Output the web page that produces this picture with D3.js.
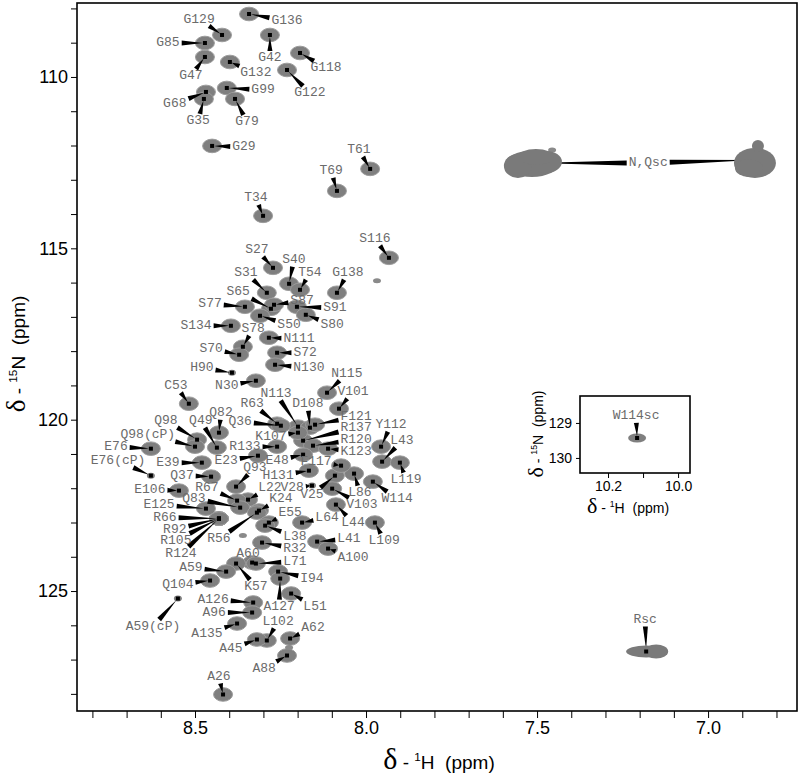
<!DOCTYPE html>
<html>
<head>
<meta charset="utf-8">
<script src="https://cdn.jsdelivr.net/npm/d3@7"></script>
<style>
  body { margin: 0; background: #fff; }
  svg { display: block; }
  text { white-space: pre; }
</style>
</head>
<body>
<svg id="chart" width="800" height="775"></svg>
<script>
// assigned backbone amides: [label, 1H ppm, 15N ppm, label 1H, label 15N]
const backbonePeaks = [
  ["G136", 8.342, 108.163, 8.231, 108.367],
  ["G129", 8.421, 108.775, 8.488, 108.309],
  ["G85", 8.471, 109.009, 8.579, 109.009],
  ["G42", 8.281, 108.775, 8.281, 109.446],
  ["G47", 8.471, 109.417, 8.512, 109.971],
  ["G132", 8.398, 109.563, 8.322, 109.883],
  ["G118", 8.193, 109.300, 8.117, 109.738],
  ["G122", 8.231, 109.796, 8.164, 110.466],
  ["G99", 8.407, 110.321, 8.301, 110.379],
  ["G68", 8.468, 110.437, 8.559, 110.787],
  ["G35", 8.474, 110.641, 8.491, 111.283],
  ["G79", 8.383, 110.641, 8.348, 111.312],
  ["G29", 8.450, 112.012, 8.357, 112.041],
  ["T61", 7.988, 112.682, 8.021, 112.128],
  ["T69", 8.085, 113.324, 8.102, 112.741],
  ["T34", 8.301, 114.052, 8.322, 113.528],
  ["S116", 7.933, 115.277, 7.974, 114.723],
  ["S27", 8.272, 115.569, 8.319, 115.044],
  ["S40", 8.225, 116.035, 8.211, 115.335],
  ["T54", 8.193, 116.210, 8.164, 115.714],
  ["G138", 8.085, 116.297, 8.053, 115.714],
  ["S31", 8.290, 116.297, 8.351, 115.714],
  ["S65", 8.278, 116.764, 8.374, 116.268],
  ["S87", 8.269, 116.647, 8.187, 116.531],
  ["S77", 8.354, 116.706, 8.456, 116.618],
  ["S91", 8.202, 116.706, 8.091, 116.735],
  ["S50", 8.310, 116.968, 8.225, 117.230],
  ["S80", 8.176, 116.939, 8.099, 117.230],
  ["S134", 8.395, 117.260, 8.497, 117.260],
  ["S78", 8.360, 117.872, 8.330, 117.347],
  ["S70", 8.371, 118.105, 8.453, 117.930],
  ["N111", 8.284, 117.609, 8.196, 117.639],
  ["S72", 8.260, 118.047, 8.178, 118.047],
  ["N130", 8.266, 118.397, 8.167, 118.484],
  ["N30", 8.322, 118.863, 8.407, 119.009],
  ["N115", 8.114, 119.213, 8.056, 118.659],
  ["V101", 8.079, 119.679, 8.038, 119.184],
  ["C53", 8.518, 119.534, 8.556, 119.009],
  ["R63", 8.260, 120.117, 8.333, 119.534],
  ["N113", 8.199, 120.204, 8.263, 119.242],
  ["D108", 8.164, 120.233, 8.170, 119.534],
  ["F121", 8.149, 120.146, 8.029, 119.913],
  ["R137", 8.184, 120.612, 8.029, 120.233],
  ["R120", 8.155, 120.758, 8.029, 120.583],
  ["K123", 8.111, 120.846, 8.029, 120.933],
  ["K107", 8.199, 120.379, 8.278, 120.496],
  ["Q98", 8.494, 120.583, 8.585, 120.029],
  ["Q98(cP)", 8.500, 120.787, 8.638, 120.437],
  ["Q49", 8.436, 120.816, 8.483, 120.029],
  ["Q82", 8.430, 120.379, 8.424, 119.796],
  ["Q36", 8.249, 120.175, 8.368, 120.058],
  ["E76", 8.629, 120.846, 8.731, 120.787],
  ["R133", 8.260, 120.787, 8.354, 120.787],
  ["E39", 8.480, 121.254, 8.579, 121.254],
  ["E23", 8.316, 121.050, 8.409, 121.195],
  ["Q37", 8.453, 121.662, 8.538, 121.633],
  ["Q93", 8.380, 121.953, 8.325, 121.400],
  ["E106", 8.547, 122.070, 8.632, 122.041],
  ["Y112", 7.956, 120.787, 7.927, 120.146],
  ["L43", 7.953, 121.225, 7.895, 120.612],
  ["L119", 7.901, 121.254, 7.883, 121.749],
  ["W114", 7.980, 121.808, 7.909, 122.303],
  ["L109", 7.974, 123.003, 7.947, 123.528],
  ["L86", 8.035, 121.574, 8.018, 122.128],
  ["V25", 8.091, 121.633, 8.158, 122.187],
  ["V103", 8.099, 122.012, 8.012, 122.478],
  ["L44", 8.088, 122.478, 8.038, 123.003],
  ["F117", 8.073, 121.341, 8.146, 121.225],
  ["E48", 8.184, 121.021, 8.260, 121.195],
  ["H131", 8.167, 121.487, 8.257, 121.633],
  ["L22", 8.345, 122.333, 8.281, 121.983],
  ["R67", 8.377, 122.362, 8.465, 121.983],
  ["Q83", 8.368, 122.566, 8.503, 122.303],
  ["E125", 8.468, 122.595, 8.605, 122.478],
  ["R66", 8.430, 122.886, 8.588, 122.857],
  ["R92", 8.430, 122.886, 8.559, 123.207],
  ["R105", 8.430, 122.886, 8.556, 123.528],
  ["R124", 8.430, 122.886, 8.541, 123.907],
  ["K24", 8.313, 122.653, 8.249, 122.303],
  ["R56", 8.319, 122.712, 8.430, 123.470],
  ["E55", 8.284, 123.003, 8.222, 122.712],
  ["L38", 8.295, 123.091, 8.208, 123.411],
  ["R32", 8.304, 123.586, 8.208, 123.761],
  ["L64", 8.187, 123.003, 8.114, 122.857],
  ["L41", 8.143, 123.557, 8.050, 123.470],
  ["A100", 8.111, 123.761, 8.038, 124.023],
  ["A60", 8.333, 124.169, 8.345, 123.907],
  ["K57", 8.380, 124.198, 8.322, 124.869],
  ["L71", 8.322, 124.198, 8.208, 124.140],
  ["A59", 8.409, 124.432, 8.512, 124.315],
  ["I94", 8.257, 124.432, 8.158, 124.636],
  ["A127", 8.251, 124.636, 8.254, 125.452],
  ["L51", 8.219, 125.073, 8.149, 125.452],
  ["Q104", 8.456, 124.694, 8.550, 124.811],
  ["A126", 8.330, 125.335, 8.447, 125.248],
  ["A96", 8.333, 125.627, 8.444, 125.627],
  ["A135", 8.377, 125.948, 8.465, 126.239],
  ["L102", 8.290, 126.443, 8.257, 125.889],
  ["A45", 8.319, 126.414, 8.395, 126.677],
  ["A62", 8.222, 126.385, 8.155, 126.064],
  ["A88", 8.231, 126.881, 8.298, 127.260],
  ["A26", 8.418, 128.018, 8.430, 127.493]
];

// weak peaks (cis-Pro forms and small signals)
const weakPeaks = [
  ["H90", 8.392, 118.630, 8.480, 118.484],
  ["E76(cP)", 8.629, 121.633, 8.725, 121.195],
  ["V28", 8.158, 121.924, 8.216, 121.983],
  ["A59(cP)", 8.550, 125.219, 8.623, 126.035]
];

// unassigned small signals: [1H, 15N]
const otherPeaks = [
  [7.968, 115.948],
  [8.360, 123.382],
  [8.225, 126.647],
  [7.456, 112.128]
];

// side-chain NH2 / NeH signals
const sideChainPeaks = [
  ["N,Qsc", 7.515, 112.507, 7.175, 112.507],
  ["N,Qsc", 6.863, 112.420, 7.175, 112.507],
  ["Rsc", 7.181, 126.764, 7.184, 125.831]
];

// inset (Trp indole)
const insetPeaks = [["W114sc", 10.117, 129.43, 10.12, 128.80]];

const xTicks = [8.8, 8.7, 8.6, 8.5, 8.4, 8.3, 8.2, 8.1, 8.0, 7.9, 7.8, 7.7, 7.6, 7.5, 7.4, 7.3, 7.2, 7.1, 7.0, 6.9, 6.8];
const xTickLabels = [8.5, 8.0, 7.5, 7.0];
const yTicks = [108, 109, 110, 111, 112, 113, 114, 115, 116, 117, 118, 119, 120, 121, 122, 123, 124, 125, 126, 127, 128];
const yTickLabels = [110, 115, 120, 125];
const insetXTicks = [10.2, 10.1, 10.0];
const insetXTickLabels = [10.2, 10.0];
const insetYTicks = [129, 130];

const svg = d3.select('#chart');
const sansFont = '"Liberation Sans", Arial, Helvetica, sans-serif';
const monoFont = '"Liberation Mono", "Courier New", monospace';
const serifFont = '"Liberation Serif", "Times New Roman", serif';

const x = d3.scaleLinear().domain([8.845, 6.74]).range([77, 797]);
const y = d3.scaleLinear().domain([107.842, 128.5]).range([3, 711]);

const has = (arr, v) => arr.some(a => Math.abs(a - v) < 1e-6);

// axes
svg.append('g')
  .attr('transform', 'translate(0,711)')
  .call(d3.axisBottom(x).tickValues(xTicks).tickSize(7).tickPadding(3)
    .tickFormat(d => has(xTickLabels, d) ? d.toFixed(1) : ''))
  .call(g => g.select('.domain').remove())
  .attr('font-family', sansFont).attr('font-size', 18);

svg.append('g')
  .attr('transform', 'translate(77,0)')
  .call(d3.axisLeft(y).tickValues(yTicks).tickSize(6).tickPadding(3)
    .tickFormat(d => has(yTickLabels, d) ? d : ''))
  .call(g => g.select('.domain').remove())
  .attr('font-family', sansFont).attr('font-size', 18);

svg.append('defs').append('clipPath').attr('id', 'plot')
  .append('rect').attr('x', 77).attr('y', 3).attr('width', 720).attr('height', 708);

const plot = svg.append('g').attr('clip-path', 'url(#plot)');

const charW = 7.8;
function wedgePath(text, lx, ly, px, py, w) {
  const hw = text.length * charW / 2 + 2, hh = 7;
  const dx = px - lx, dy = py - ly;
  const tx = dx !== 0 ? hw / Math.abs(dx) : Infinity;
  const ty = dy !== 0 ? hh / Math.abs(dy) : Infinity;
  const t = Math.min(tx, ty);
  if (t >= 1) return null;
  const sx = lx + dx * t, sy = ly + dy * t;
  const len = Math.hypot(px - sx, py - sy);
  if (len < 4) return null;
  const ux = (px - sx) / len, uy = (py - sy) / len;
  const ex = px - ux * 2, ey = py - uy * 2;
  const nx = -uy * w / 2, ny = ux * w / 2;
  return `M${sx + nx},${sy + ny}L${sx - nx},${sy - ny}L${ex},${ey}Z`;
}

// peak contours
plot.selectAll('ellipse.pk').data(backbonePeaks).join('ellipse')
  .attr('class', 'pk')
  .attr('cx', d => x(d[1])).attr('cy', d => y(d[2]))
  .attr('rx', 9.5).attr('ry', 6.8)
  .attr('fill', '#7f7f7f').attr('stroke', '#9c9c9c').attr('stroke-width', 1);

plot.selectAll('ellipse.wk').data(weakPeaks).join('ellipse')
  .attr('class', 'wk')
  .attr('cx', d => x(d[1])).attr('cy', d => y(d[2]))
  .attr('rx', 4).attr('ry', 3).attr('fill', '#7f7f7f');

plot.selectAll('ellipse.ot').data(otherPeaks).join('ellipse')
  .attr('class', 'ot')
  .attr('cx', d => x(d[0])).attr('cy', d => y(d[1]))
  .attr('rx', 4).attr('ry', 2.5).attr('fill', '#8a8a8a');

// leader wedges
const labelled = backbonePeaks.concat(weakPeaks, sideChainPeaks);
plot.selectAll('path.wedge').data(labelled).join('path')
  .attr('class', 'wedge')
  .attr('d', d => wedgePath(d[0], x(d[3]), y(d[4]), x(d[1]), y(d[2]), 5))
  .attr('fill', '#000');

// broad side-chain blobs drawn over their wedges
const blobParts = {
  left: [[0, 1, 27, 13], [-14, 3, 14, 12], [14, -1, 16, 11], [4, -6, 18, 8]],
  right: [[0, 3, 21, 15], [-6, 8, 14, 9], [3, -14, 6, 6]],
  rsc: [[0, 0, 20, 6], [10, 0, 12, 7]]
};
const blobKeys = ['left', 'right', 'rsc'];
sideChainPeaks.forEach((d, i) => {
  const cx = x(d[1]), cy = y(d[2]);
  plot.append('g').selectAll('ellipse').data(blobParts[blobKeys[i]]).join('ellipse')
    .attr('cx', p => cx + p[0]).attr('cy', p => cy + p[1])
    .attr('rx', p => p[2]).attr('ry', p => p[3])
    .attr('fill', '#7a7a7a');
});

// centre markers
const markers = backbonePeaks.concat(weakPeaks).map(d => [d[1], d[2]])
  .concat(sideChainPeaks.slice(2).map(d => [d[1], d[2]]));
plot.selectAll('rect.mk').data(markers).join('rect')
  .attr('class', 'mk')
  .attr('x', d => x(d[0]) - 2).attr('y', d => y(d[1]) - 2)
  .attr('width', 4).attr('height', 4).attr('fill', '#000');

// residue labels
const labelTexts = backbonePeaks.concat(weakPeaks, [sideChainPeaks[0], sideChainPeaks[2]]);
plot.selectAll('text.lab').data(labelTexts).join('text')
  .attr('class', 'lab')
  .attr('x', d => x(d[3])).attr('y', d => y(d[4]))
  .attr('text-anchor', 'middle').attr('dominant-baseline', 'central')
  .attr('font-family', monoFont).attr('font-size', 13).attr('fill', '#6b6b6b')
  .text(d => d[0]);

// frame
svg.append('rect').attr('x', 77).attr('y', 3).attr('width', 720).attr('height', 708)
  .attr('fill', 'none').attr('stroke', '#000').attr('stroke-width', 1.6);

// axis titles
function axisTitle(g, big, small, sup, nucleus, supDy) {
  g.append('tspan').attr('font-family', serifFont).attr('font-size', big).text('δ');
  g.append('tspan').attr('font-size', small).text(' - ');
  g.append('tspan').attr('font-size', small * 0.62).attr('dy', -supDy).text(sup);
  g.append('tspan').attr('font-size', small).attr('dy', supDy).text(nucleus + '  (ppm)');
}
axisTitle(svg.append('text').attr('x', 439).attr('y', 769).attr('text-anchor', 'middle')
  .attr('font-family', sansFont).attr('fill', '#000'), 30, 19, '1', 'H', 8);
axisTitle(svg.append('text').attr('transform', 'translate(25,354) rotate(-90)')
  .attr('text-anchor', 'middle').attr('font-family', sansFont).attr('fill', '#000'), 27, 19, '15', 'N', 8);

// inset
const ix = d3.scaleLinear().domain([10.28, 9.966]).range([580, 690]);
const iy = d3.scaleLinear().domain([128.23, 130.43]).range([396, 473]);
const inset = svg.append('g');
inset.append('rect').attr('x', 580).attr('y', 396).attr('width', 110).attr('height', 77)
  .attr('fill', '#fff');
inset.append('g').attr('transform', 'translate(0,473)')
  .call(d3.axisBottom(ix).tickValues(insetXTicks).tickSize(5).tickPadding(3)
    .tickFormat(d => has(insetXTickLabels, d) ? d.toFixed(1) : ''))
  .call(g => g.select('.domain').remove())
  .attr('font-family', sansFont).attr('font-size', 14);
inset.append('g').attr('transform', 'translate(580,0)')
  .call(d3.axisLeft(iy).tickValues(insetYTicks).tickSize(4).tickPadding(4)
    .tickFormat(d3.format('d')))
  .call(g => g.select('.domain').remove())
  .attr('font-family', sansFont).attr('font-size', 14);
inset.selectAll('ellipse').data(insetPeaks).join('ellipse')
  .attr('cx', d => ix(d[1])).attr('cy', d => iy(d[2]))
  .attr('rx', 9).attr('ry', 4.5).attr('fill', '#7f7f7f');
inset.selectAll('path').data(insetPeaks).join('path')
  .attr('d', d => wedgePath(d[0], ix(d[3]), iy(d[4]), ix(d[1]), iy(d[2]), 5))
  .attr('fill', '#000');
inset.selectAll('rect.mk').data(insetPeaks).join('rect').attr('class', 'mk')
  .attr('x', d => ix(d[1]) - 2).attr('y', d => iy(d[2]) - 2)
  .attr('width', 4).attr('height', 4).attr('fill', '#000');
inset.selectAll('text.lab').data(insetPeaks).join('text').attr('class', 'lab')
  .attr('x', d => ix(d[3])).attr('y', d => iy(d[4]))
  .attr('text-anchor', 'middle').attr('dominant-baseline', 'central')
  .attr('font-family', monoFont).attr('font-size', 13).attr('fill', '#6b6b6b')
  .text(d => d[0]);
inset.append('rect').attr('x', 580).attr('y', 396).attr('width', 110).attr('height', 77)
  .attr('fill', 'none').attr('stroke', '#000').attr('stroke-width', 1.6);
axisTitle(inset.append('text').attr('x', 628).attr('y', 513).attr('text-anchor', 'middle')
  .attr('font-family', sansFont).attr('fill', '#000'), 22, 14, '1', 'H', 6);
axisTitle(inset.append('text').attr('transform', 'translate(543,434) rotate(-90)')
  .attr('text-anchor', 'middle').attr('font-family', sansFont).attr('fill', '#000'), 22, 14, '15', 'N', 6);
</script>
</body>
</html>
